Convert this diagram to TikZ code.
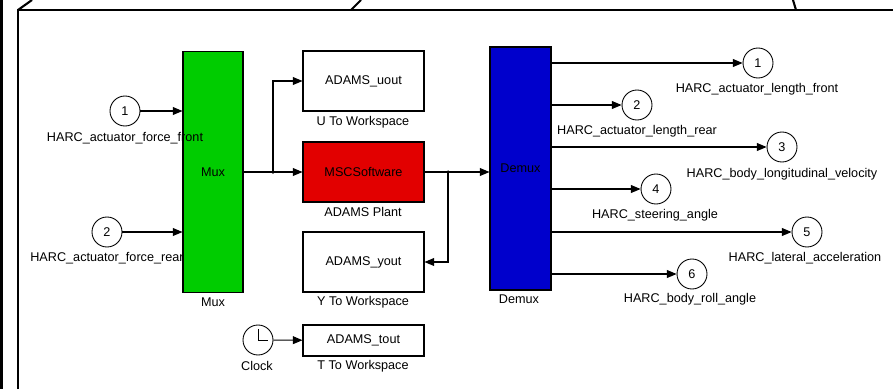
\documentclass[tikz,border=0pt]{standalone}
\usepackage{fontspec}
\setmainfont{Liberation Sans}
\usetikzlibrary{arrows.meta, positioning}
\definecolor{muxgreen}{RGB}{0,204,0}
\definecolor{plantred}{RGB}{226,0,0}
\definecolor{demuxblue}{RGB}{0,0,204}

\begin{document}
\begin{tikzpicture}[
    x=0.02cm, y=-0.02cm,
    font=\fontsize{7.2}{8.2}\selectfont,
    box/.style={rectangle, draw=black, line width=0.6pt, minimum width=2.42cm, minimum height=1.2cm, inner sep=0pt, align=center},
    port/.style={circle, draw=black, line width=0.5pt, minimum size=0.6cm, inner sep=0pt},
    lbl/.style={inner sep=0pt},
    arrow/.style={-{Triangle[length=5.5pt, width=4.5pt]}, line width=0.6pt},
    frame/.style={line width=1.2pt}
]
\useasboundingbox (0,0) rectangle (893,389);

\draw[line width=1.7pt] (1.5,0) -- (1.5,389);
\draw[frame] (18,389) -- (18,10) -- (893,10);
\draw[frame] (18,10) -- (32,0);
\draw[frame] (351,10) -- (361,0);
\draw[frame] (796,10) -- (793,0);

\node[box, fill=muxgreen, minimum width=1.2cm, minimum height=4.82cm] (mux) at (213,172) {Mux};
\node[lbl] (muxlbl) at (213,302) {Mux};

\node[port] (in1) at (125,111) {1};
\node[lbl] (in1lbl) at (125,138) {HARC\_actuator\_force\_front};
\node[port] (in2) at (107,232) {2};
\node[lbl] (in2lbl) at (107,258) {HARC\_actuator\_force\_rear};

\coordinate (br1) at (273,172);
\coordinate (br2) at (448,172);

\node[box] (uout) at (363.5,81) {ADAMS\_uout};
\node[lbl] (uoutlbl) at (363,122) {U To Workspace};
\node[box, fill=plantred] (plant) at (363.5,172) {MSCSoftware};
\node[lbl] (plantlbl) at (363,212) {ADAMS Plant};
\node[box] (yout) at (363.5,262) {ADAMS\_yout};
\node[lbl] (youtlbl) at (363,302) {Y To Workspace};
\node[box, minimum height=0.62cm] (tout) at (363.5,340.5) {ADAMS\_tout};
\node[lbl] (toutlbl) at (363,366) {T To Workspace};

\node[port, path picture={
    \draw[line width=0.5pt] (path picture bounding box.center) -- ++(0,0.22cm);
    \draw[line width=0.5pt] (path picture bounding box.center) -- ++(0.2cm,0);
  }] (clock) at (258,340) {};
\node[lbl] (clocklbl) at (257,366) {Clock};

\node[box, fill=demuxblue, minimum width=1.22cm, minimum height=4.86cm] (demux) at (520.5,168.5) {Demux};
\node[lbl] (demuxlbl) at (519,299) {Demux};

\node[port] (o1) at (758,63) {1};
\node[lbl] (o1lbl) at (757,89) {HARC\_actuator\_length\_front};
\node[port] (o2) at (637,105) {2};
\node[lbl] (o2lbl) at (637,131) {HARC\_actuator\_length\_rear};
\node[port] (o3) at (782,147) {3};
\node[lbl] (o3lbl) at (782,174) {HARC\_body\_longitudinal\_velocity};
\node[port] (o4) at (656,189) {4};
\node[lbl] (o4lbl) at (655,215) {HARC\_steering\_angle};
\node[port] (o5) at (807,232) {5};
\node[lbl] (o5lbl) at (805,258) {HARC\_lateral\_acceleration};
\node[port] (o6) at (692,274) {6};
\node[lbl] (o6lbl) at (690,299) {HARC\_body\_roll\_angle};

\draw[arrow] (in1) -- (in1 -| mux.west);
\draw[arrow] (in2) -- (in2 -| mux.west);
\draw[line width=0.6pt] (mux.east |- br1) -- (br1);
\draw[arrow] (br1) -- (plant);
\draw[arrow] (br1) |- (uout);
\draw[line width=0.6pt] (plant) -- (br2);
\draw[arrow] (br2) -- (br2 -| demux.west);
\draw[arrow] (br2) |- (yout);
\draw[arrow] (clock) -- (tout);
\foreach \i in {1,...,6}
    \draw[arrow] (demux.east |- o\i) -- (o\i);
\fill (br1) circle (0.035cm);
\fill (br2) circle (0.035cm);
\end{tikzpicture}
\end{document}
